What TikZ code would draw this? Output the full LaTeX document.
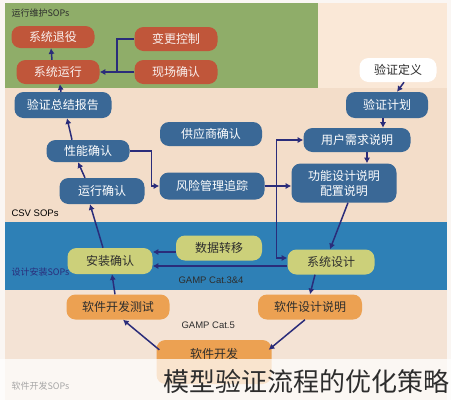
\documentclass[tikz,border=0pt]{standalone}
\usepackage{fontspec}
\setmainfont{Liberation Sans}
\newfontfamily\cjk{Noto Sans CJK SC}
\usepackage{xcolor}
\usetikzlibrary{arrows.meta,positioning,calc}
\definecolor{pagebg}{RGB}{250,246,243}
\definecolor{peachlt}{RGB}{250,232,215}
\definecolor{peach}{RGB}{243,221,201}
\definecolor{peachlow}{RGB}{244,227,213}
\definecolor{opsgreen}{RGB}{143,173,105}
\definecolor{bandblue}{RGB}{46,128,182}
\definecolor{opsred}{RGB}{192,86,58}
\definecolor{csvblue}{RGB}{58,104,150}
\definecolor{iqyellow}{RGB}{204,208,122}
\definecolor{sworange}{RGB}{236,161,82}
\definecolor{arrowblue}{RGB}{42,44,122}
\definecolor{labeldark}{RGB}{45,45,45}

\begin{document}
\begin{tikzpicture}[x=1pt,y=-1pt,
  box/.style={rounded corners=9pt,minimum height=24pt,align=center,inner sep=2pt,
    font=\cjk\fontsize{12}{15}\selectfont},
  redbox/.style={box,fill=opsred,text=white!92!opsred},
  bluebox/.style={box,fill=csvblue,text=white},
  whitebox/.style={box,fill=white,text=labeldark},
  yelbox/.style={box,fill=iqyellow,text=labeldark},
  orgbox/.style={box,fill=sworange,text=labeldark},
  band/.style={font=\cjk\fontsize{9}{11}\selectfont,anchor=west},
  arr/.style={-{Latex[length=2mm,width=2.2mm]},line width=1.5pt,draw=arrowblue},
  ln/.style={line width=1.5pt,draw=arrowblue}]
  \useasboundingbox (0,0) rectangle (451,400);
  % background bands
  \fill[pagebg] (0,0) rectangle (451,400);
  \fill[peachlt] (318,3) rectangle (447,88);
  \fill[opsgreen] (5,3) rectangle (318,88);
  \fill[peach] (5,88) rectangle (447,222);
  \fill[bandblue] (5,222) rectangle (447,290);
  \fill[peachlow] (5,290) rectangle (447,400);
  \node[band,text=labeldark] (opslbl) at (8,13) {运行维护SOPs};
  \node[band,font=\fontsize{9.5}{11}\selectfont,text=black] (csvlbl) at (8,213) {CSV SOPs};
  \node[band,text=arrowblue] (iqlbl) at (8,272) {设计安装SOPs};
  \node[band,font=\fontsize{9.5}{11}\selectfont,text=labeldark] (cat34) at (175,280) {GAMP Cat.3\&4};
  \node[band,font=\fontsize{9.5}{11}\selectfont,text=labeldark] (cat5) at (178,325) {GAMP Cat.5};

  % operation
  \node[redbox,minimum width=83pt,minimum height=22pt] (retire) at (53,37) {系统退役};
  \node[redbox,minimum width=83pt] (sysrun) at (58,72) {系统运行};
  \node[redbox,minimum width=83pt] (change) at (176,39) {变更控制};
  \node[redbox,minimum width=83pt] (site) at (176,72) {现场确认};
  \coordinate (jn) at (117,72);

  % CSV
  \node[bluebox,minimum width=97pt,minimum height=26pt] (report) at (63,105) {验证总结报告};
  \node[bluebox,minimum width=83pt,minimum height=22pt] (pq) at (88,151) {性能确认};
  \node[bluebox,minimum width=85pt,minimum height=26pt] (oq) at (102,191) {运行确认};
  \node[bluebox,minimum width=102pt] (vendor) at (211,134) {供应商确认};
  \node[bluebox,minimum width=105pt,minimum height=27pt] (risk) at (212,186) {风险管理追踪};
  \node[whitebox,minimum width=77pt] (vdef) at (398,70) {验证定义};
  \node[bluebox,minimum width=82pt,minimum height=26pt] (vplan) at (387,105) {验证计划};
  \node[bluebox,minimum width=107pt] (urs) at (357,140) {用户需求说明};
  \node[bluebox,minimum width=105pt,minimum height=39pt] (fds) at (344,183) {功能设计说明\\配置说明};

  % design / install
  \node[yelbox,minimum width=85pt,minimum height=26pt] (iq) at (110,261) {安装确认};
  \node[yelbox,minimum width=86pt,minimum height=25pt] (data) at (219,248) {数据转移};
  \node[yelbox,minimum width=87pt,minimum height=25pt] (sysdes) at (331,262) {系统设计};

  % software
  \node[orgbox,minimum width=103pt,minimum height=25pt] (swtest) at (118,307) {软件开发测试};
  \node[orgbox,minimum width=104pt,minimum height=25pt] (swspec) at (310,307) {软件设计说明};
  \node[orgbox,minimum width=115pt,minimum height=44pt,text depth=18pt] (swdev) at (214,362) {软件开发};

  \draw[arr] (site) -- (sysrun);
  \draw[ln] (change.west) -| (jn);
  \draw[arr] ([xshift=-6pt]sysrun.north) -- ([xshift=-2pt]retire.south);
  \draw[arr] (report) -- (sysrun);
  \draw[arr] ([xshift=-16pt]pq.north) -- ([xshift=4pt]report.south);
  \draw[arr] ([xshift=-17pt]oq.north) -- ([xshift=-10pt]pq.south);
  \draw[arr] (pq.east) -- ++(22,0) |- (risk.west);
  \draw[arr] (risk.east) -- (risk.east -| fds.west);
  \draw[arr] (risk.east) -- ++(12,0) |- (urs.west);
  \draw[arr] (risk.east) -- ++(12,0) |- ([yshift=4pt]sysdes.west);
  \draw[arr] ([xshift=6pt]vdef.south) -- ([xshift=10pt]vplan.north);
  \draw[arr] ([xshift=-4pt]vplan.south) -- ([xshift=26pt]urs.north);
  \draw[arr] ([xshift=10pt]urs.south) -- ([xshift=23pt]fds.north);
  \draw[arr] ([xshift=4pt]fds.south) -- ([xshift=-1pt]sysdes.north);
  \draw[arr] ([yshift=-4pt]data.west) -- ([yshift=9pt]iq.east);
  \draw[arr] ([yshift=-4pt]sysdes.west) -- ([yshift=-5pt]iq.east);
  \draw[arr] ([xshift=-7pt]iq.north) -- ([xshift=-12pt]oq.south);
  \draw[arr] ([xshift=-16pt]sysdes.south) -- (swspec.north);
  \draw[arr] ([xshift=-5pt]swspec.south) -- ([xshift=-3pt,yshift=-10pt]swdev.north east);
  \draw[arr] ([xshift=3pt,yshift=-10pt]swdev.north west) -- ([xshift=5pt]swtest.south);
  \draw[arr] ([xshift=-3pt]swtest.north) -- ([xshift=2pt]iq.south);

  % faded caption strip
  \fill[white,opacity=0.72] (0,359) rectangle (451,400);
  \node[band,text=black!35] (swlbl) at (8,386) {软件开发SOPs};
  \node[anchor=west,font=\cjk\fontsize{26}{30}\selectfont,text=labeldark] (title) at (160,382) {模型验证流程的优化策略};
\end{tikzpicture}
\end{document}
